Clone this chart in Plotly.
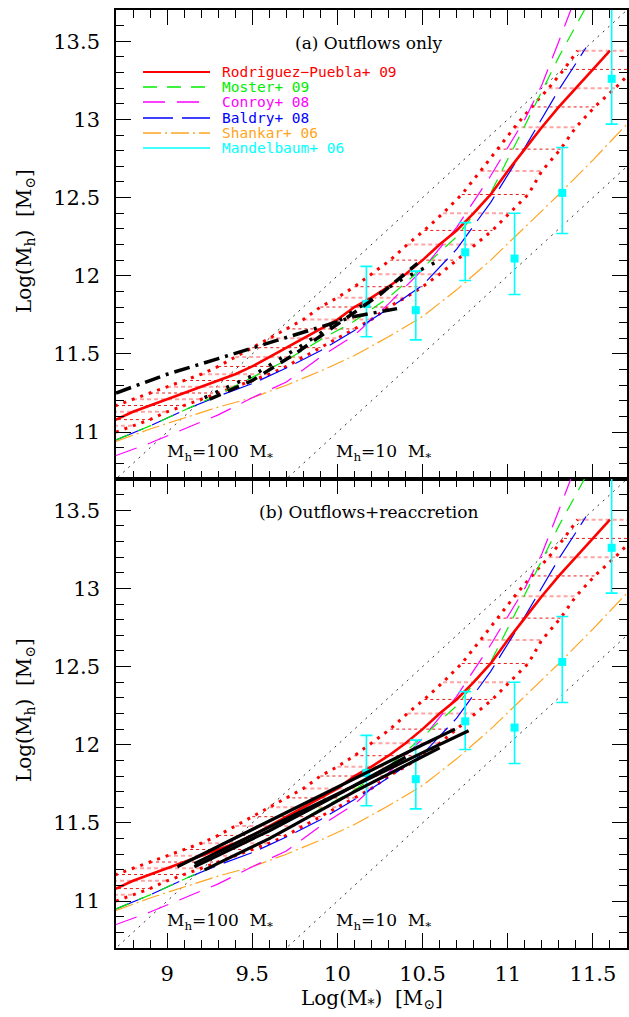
import plotly.graph_objects as go
from plotly.subplots import make_subplots

# ---------------- data ----------------
# Rodriguez-Puebla+09 relation and its 1-sigma band (horizontal extent at each level)
rp_x = [8.5, 8.6, 8.7, 8.8, 8.9, 9.0, 9.1, 9.2, 9.3, 9.4, 9.5, 9.6, 9.7, 9.8, 9.9, 10.0,
        10.1, 10.2, 10.3, 10.4, 10.5, 10.6, 10.7, 10.8, 10.9, 11.0, 11.1, 11.2, 11.3, 11.4, 11.5, 11.6]
rp_y = [11.00, 11.04, 11.08, 11.13, 11.17, 11.21, 11.25, 11.29, 11.33, 11.37, 11.42, 11.48,
        11.54, 11.60, 11.66, 11.72, 11.80, 11.86, 11.93, 12.01, 12.10, 12.20, 12.29, 12.40,
        12.52, 12.67, 12.81, 12.95, 13.08, 13.20, 13.32, 13.44]
band_lo = [8.30, 8.40, 8.50, 8.60, 8.70, 8.80, 8.90, 9.00, 9.10, 9.20, 9.30, 9.40, 9.50, 9.60,
           9.70, 9.80, 9.90, 10.00, 10.10, 10.20, 10.31, 10.41, 10.51, 10.62, 10.73, 10.84,
           10.94, 11.04, 11.14, 11.24, 11.33, 11.41]
band_hi = [8.70, 8.80, 8.90, 9.00, 9.10, 9.20, 9.30, 9.40, 9.50, 9.60, 9.70, 9.80, 9.90, 10.00,
           10.10, 10.20, 10.30, 10.40, 10.50, 10.60, 10.70, 10.81, 10.91, 11.01, 11.12, 11.20,
           11.31, 11.40, 11.51, 11.63, 11.74, 11.85]

moster_x = [8.7, 8.9, 9.1, 9.3, 9.5, 9.7, 9.9, 10.1, 10.3, 10.5, 10.7, 10.9, 11.1, 11.3, 11.46]
moster_y = [10.95, 11.04, 11.14, 11.24, 11.35, 11.46, 11.59, 11.71, 11.86, 12.05, 12.25, 12.53,
            12.96, 13.40, 13.72]

conroy_x = [8.7, 8.9, 9.1, 9.3, 9.5, 9.7, 9.9, 10.1, 10.3, 10.5, 10.7, 10.9, 11.1, 11.2, 11.3, 11.37]
conroy_y = [10.85, 10.93, 11.02, 11.11, 11.22, 11.32, 11.48, 11.62, 11.82, 12.04, 12.31, 12.64,
            13.00, 13.22, 13.50, 13.70]

baldry_x = [8.7, 8.9, 9.1, 9.3, 9.5, 9.7, 9.9, 10.1, 10.3, 10.5, 10.7, 10.9, 11.1, 11.3, 11.46]
baldry_y = [10.95, 11.04, 11.14, 11.23, 11.31, 11.41, 11.52, 11.65, 11.79, 11.94, 12.17, 12.47,
            12.82, 13.19, 13.46]

shankar_x = [8.7, 8.9, 9.1, 9.3, 9.5, 9.7, 9.9, 10.1, 10.3, 10.5, 10.7, 10.9, 11.1, 11.3, 11.5, 11.7]
shankar_y = [10.94, 11.02, 11.09, 11.16, 11.22, 11.30, 11.39, 11.49, 11.61, 11.74, 11.91, 12.10,
             12.31, 12.52, 12.74, 12.97]

mand_x = [10.17, 10.46, 10.75, 11.04, 11.32, 11.61]
mand_y = [11.82, 11.78, 12.15, 12.11, 12.53, 13.26]
mand_up = [0.24, 0.25, 0.19, 0.29, 0.29, 0.60]
mand_dn = [0.21, 0.19, 0.18, 0.23, 0.26, 0.29]

# Mh = 100 M*, Mh = 10 M*
diag_x = [8.5, 12.0]
diag100_y = [10.5, 14.0]
diag10_y = [9.5, 13.0]

# model curves, panel (a) outflows only
a_dashdot_x = [8.7, 9.0, 9.3, 9.6, 9.9, 10.1, 10.35]
a_dashdot_y = [11.25, 11.37, 11.47, 11.57, 11.67, 11.74, 11.79]
a_dashed_x = [9.25, 9.5, 9.75, 10.0, 10.25, 10.47]
a_dashed_y = [11.21, 11.33, 11.50, 11.69, 11.88, 12.08]
a_dotted_x = [9.22, 9.5, 9.8, 10.1, 10.35, 10.6]
a_dotted_y = [11.22, 11.36, 11.56, 11.78, 11.96, 12.10]

# model curves, panel (b) outflows + reaccretion
b1_x = [9.06, 9.5, 10.0, 10.5, 10.69]
b1_y = [11.22, 11.46, 11.73, 12.00, 12.10]
b2_x = [9.16, 9.5, 10.0, 10.5, 10.77]
b2_y = [11.24, 11.42, 11.69, 11.95, 12.09]
b3_x = [9.16, 9.6, 10.0, 10.4]
b3_y = [11.22, 11.45, 11.68, 11.92]
b4_x = [9.22, 9.6, 10.1, 10.6]
b4_y = [11.20, 11.40, 11.70, 11.98]

x_ticks = [9, 9.5, 10, 10.5, 11, 11.5]
x_ticktext = ["9", "9.5", "10", "10.5", "11", "11.5"]
y_ticks = [11, 11.5, 12, 12.5, 13, 13.5]
y_ticktext = ["11", "11.5", "12", "12.5", "13", "13.5"]

legend_names = ["Rodriguez\u2212Puebla+ 09", "Moster+ 09", "Conroy+ 08",
                "Baldry+ 08", "Shankar+ 06", "Mandelbaum+ 06"]
legend_colors = ["#ff0000", "#00ee00", "#ff00ff", "#0000ff", "#ffa520", "#00ffff"]
legend_dash = ["solid", "14px,10px", "22px,12px", "30px,9px", "18px,4px,2px,4px", "solid"]

# ---------------- figure ----------------
fig = make_subplots(rows=2, cols=1, shared_xaxes=True, vertical_spacing=0)

RED = "#ff0000"


def seg_lists(idx):
    xs, ys = [], []
    for i in idx:
        xs += [band_lo[i], band_hi[i], None]
        ys += [rp_y[i], rp_y[i], None]
    return xs, ys


def add_common(row):
    kw = dict(row=row, col=1)
    # diagonal reference lines
    for yy in (diag100_y, diag10_y):
        fig.add_trace(go.Scatter(x=diag_x, y=yy, mode="lines", hoverinfo="skip",
                                 line=dict(color="#333333", width=1, dash="2px,5px")), **kw)
    # band hatch (horizontal dashed lines)
    even = [i for i in range(len(rp_y)) if i % 2 == 0]
    odd = [i for i in range(len(rp_y)) if i % 2 == 1]
    xs, ys = seg_lists(odd)
    fig.add_trace(go.Scatter(x=xs, y=ys, mode="lines", hoverinfo="skip",
                             line=dict(color="rgba(255,90,90,0.55)", width=2, dash="4px,3px")), **kw)
    xs, ys = seg_lists(even)
    fig.add_trace(go.Scatter(x=xs, y=ys, mode="lines", hoverinfo="skip",
                             line=dict(color="rgba(230,0,0,0.9)", width=1, dash="3px,3px")), **kw)
    # band boundaries
    fig.add_trace(go.Scatter(x=band_lo, y=rp_y, mode="lines", hoverinfo="skip",
                             line=dict(color=RED, width=3, dash="3px,6px")), **kw)
    fig.add_trace(go.Scatter(x=band_hi, y=rp_y, mode="lines", hoverinfo="skip",
                             line=dict(color=RED, width=3, dash="3px,6px")), **kw)
    # other relations
    fig.add_trace(go.Scatter(x=shankar_x, y=shankar_y, mode="lines",
                             line=dict(color=legend_colors[4], width=1.2, dash=legend_dash[4])), **kw)
    fig.add_trace(go.Scatter(x=conroy_x, y=conroy_y, mode="lines",
                             line=dict(color=legend_colors[2], width=1.2, dash=legend_dash[2])), **kw)
    fig.add_trace(go.Scatter(x=baldry_x, y=baldry_y, mode="lines",
                             line=dict(color=legend_colors[3], width=1.2, dash=legend_dash[3])), **kw)
    fig.add_trace(go.Scatter(x=moster_x, y=moster_y, mode="lines",
                             line=dict(color=legend_colors[1], width=1.2, dash=legend_dash[1])), **kw)
    fig.add_trace(go.Scatter(x=rp_x, y=rp_y, mode="lines",
                             line=dict(color=RED, width=2.6)), **kw)
    fig.add_trace(go.Scatter(x=mand_x, y=mand_y, mode="markers",
                             marker=dict(symbol="square", size=8, color="#00ffff"),
                             error_y=dict(type="data", symmetric=False, array=mand_up,
                                          arrayminus=mand_dn, color="#00ffff",
                                          thickness=1.6, width=6)), **kw)


add_common(1)
add_common(2)

BL = "#000000"
fig.add_trace(go.Scatter(x=a_dashdot_x, y=a_dashdot_y, mode="lines",
                         line=dict(color=BL, width=3.5, dash="16px,6px,3px,6px")), row=1, col=1)
fig.add_trace(go.Scatter(x=a_dashed_x, y=a_dashed_y, mode="lines",
                         line=dict(color=BL, width=3.5, dash="12px,8px")), row=1, col=1)
fig.add_trace(go.Scatter(x=a_dotted_x, y=a_dotted_y, mode="lines",
                         line=dict(color=BL, width=3.5, dash="3px,9px")), row=1, col=1)
for bx, by in ((b1_x, b1_y), (b2_x, b2_y), (b3_x, b3_y), (b4_x, b4_y)):
    fig.add_trace(go.Scatter(x=bx, y=by, mode="lines",
                             line=dict(color=BL, width=3.2)), row=2, col=1)

# ---------------- axes ----------------
SERIF = "DejaVu Serif"
axis_common = dict(showline=True, linewidth=1.6, linecolor="black", mirror="allticks",
                   ticks="inside", ticklen=15, tickwidth=1.4, tickcolor="black",
                   showgrid=False, zeroline=False, automargin=False,
                   tickfont=dict(family=SERIF, size=21, color="black"))
for r in (1, 2):
    fig.update_xaxes(range=[8.7, 11.7], tickvals=x_ticks, ticktext=x_ticktext,
                     minor=dict(ticks="inside", ticklen=8, tickwidth=1, tickcolor="black",
                                tick0=9, dtick=0.1, showgrid=False),
                     showticklabels=(r == 2), ticklabelstandoff=6, **axis_common, row=r, col=1)
    fig.update_yaxes(range=[10.7, 13.7], tickvals=y_ticks, ticktext=y_ticktext,
                     minor=dict(ticks="inside", ticklen=8, tickwidth=1, tickcolor="black",
                                tick0=11, dtick=0.1, showgrid=False),
                     ticklabelstandoff=10, **axis_common, row=r, col=1)

W, H = 629, 1017
ML, MR, MT, MB = 116, 2, 10, 69
PW, PH = W - ML - MR, H - MT - MB


def px2paper(px, py):
    return (px - ML) / PW, (H - MB - py) / PH


annotations = []
# panel labels
annotations.append(dict(x=10.185, y=13.49, xref="x", yref="y", text="(a) Outflows only",
                        showarrow=False, font=dict(family=SERIF, size=17, color="black")))
annotations.append(dict(x=10.185, y=13.49, xref="x2", yref="y2", text="(b) Outflows+reaccretion",
                        showarrow=False, font=dict(family=SERIF, size=17, color="black")))
for xr, yr in (("x", "y"), ("x2", "y2")):
    annotations.append(dict(x=9.31, y=10.87, xref=xr, yref=yr,
                            text="M<sub>h</sub>=100  M<sub>*</sub>", showarrow=False,
                            font=dict(family=SERIF, size=17, color="black")))
    annotations.append(dict(x=10.27, y=10.87, xref=xr, yref=yr,
                            text="M<sub>h</sub>=10  M<sub>*</sub>", showarrow=False,
                            font=dict(family=SERIF, size=17, color="black")))

# axis titles
ytitle = "Log(M<sub>h</sub>)  [M<sub>\u2299</sub>]"
for cy in (241, 710):
    xp, yp = px2paper(25, cy)
    annotations.append(dict(x=xp, y=yp, xref="paper", yref="paper", text=ytitle,
                            textangle=-90, showarrow=False, xanchor="center", yanchor="middle",
                            font=dict(family=SERIF, size=20, color="black")))
xp, yp = px2paper(372, 999)
annotations.append(dict(x=xp, y=yp, xref="paper", yref="paper",
                        text="Log(M<sub>*</sub>)  [M<sub>\u2299</sub>]", showarrow=False,
                        xanchor="center", yanchor="middle",
                        font=dict(family=SERIF, size=20, color="black")))

# hand-drawn legend
shapes = []
rows_py = [72, 87, 102, 118, 133, 148]
for name, col, dsh, py in zip(legend_names, legend_colors, legend_dash, rows_py):
    x0, yy = px2paper(143, py)
    x1, _ = px2paper(210, py)
    shapes.append(dict(type="line", xref="paper", yref="paper", x0=x0, x1=x1, y0=yy, y1=yy,
                       line=dict(color=col, width=1.8 if name.startswith("Rod") else 1.4, dash=dsh)))
    xt, _ = px2paper(220, py)
    annotations.append(dict(x=xt, y=yy, xref="paper", yref="paper", text=name,
                            showarrow=False, xanchor="left", yanchor="middle",
                            font=dict(family="DejaVu Sans Mono", size=14.5, color=col)))

fig.update_layout(width=W, height=H, margin=dict(l=ML, r=MR, t=MT, b=MB),
                  paper_bgcolor="white", plot_bgcolor="white", showlegend=False,
                  annotations=annotations, shapes=shapes)

fig.write_html("out.html", config={"displayModeBar": False},
               post_script="document.body.style.margin='0';document.body.style.padding='0';")
